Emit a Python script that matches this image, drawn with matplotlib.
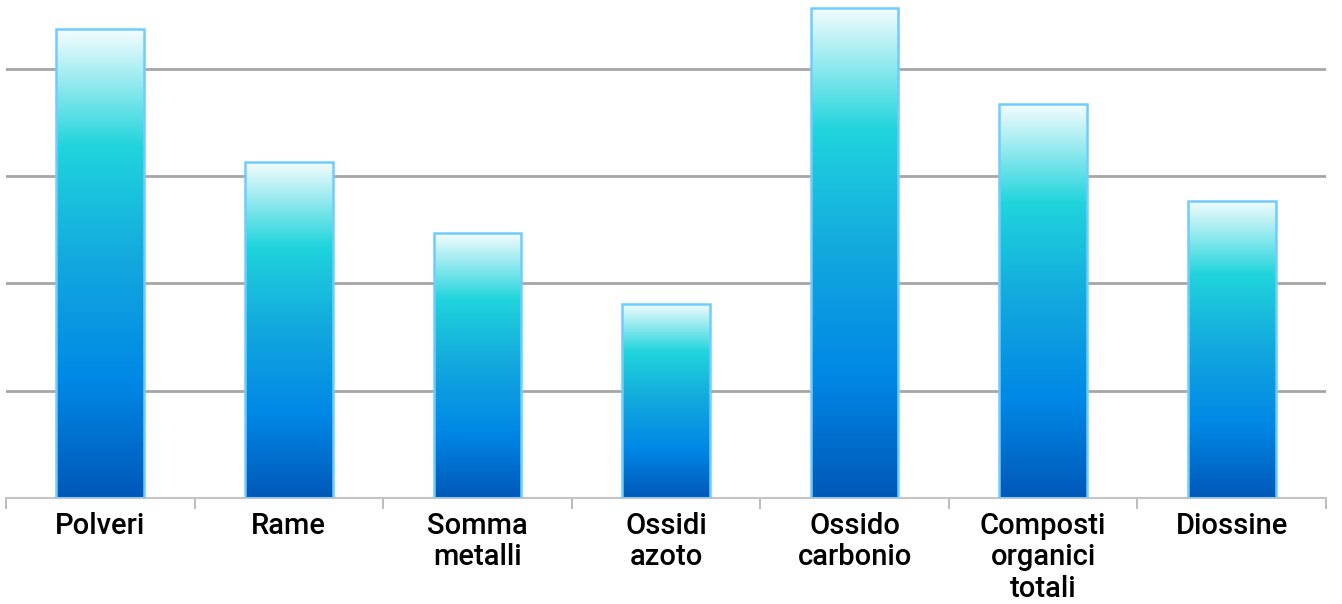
import numpy as np
import matplotlib
matplotlib.use("Agg")
import matplotlib.pyplot as plt
from matplotlib.colors import LinearSegmentedColormap
from matplotlib.ticker import FixedLocator

# Data
categories = ["Polveri", "Rame", "Somma\nmetalli", "Ossidi\nazoto",
              "Ossido\ncarbonio", "Composti\norganici\ntotali", "Diossine"]
values = [4.37, 3.13, 2.47, 1.81, 4.57, 3.67, 2.77]

plt.rcParams['font.family'] = ['Roboto', 'DejaVu Sans']

fig = plt.figure(figsize=(13.42, 6.04), dpi=100)
ax = fig.add_axes([6 / 1342, 1 - 498 / 604, 1320 / 1342, 497 / 604])

# gradient: white top -> cyan -> blue -> dark blue bottom
cmap = LinearSegmentedColormap.from_list("bar", [
    (0.0, "#0058b8"),
    (0.25, "#0088e6"),
    (0.5, "#12a8de"),
    (0.75, "#20d4dc"),
    (1.0, "#f4fcfe"),
])
grad = np.linspace(0, 1, 256).reshape(-1, 1)

x = np.arange(len(categories))
width = 0.465
bars = ax.bar(x, values, width=width, color="none", edgecolor="#70ccff",
              linewidth=1.8, zorder=3)
for b in bars:
    x0, y0 = b.get_x(), b.get_y()
    w, h = b.get_width(), b.get_height()
    im = ax.imshow(grad, cmap=cmap, origin="lower", aspect="auto",
                   extent=[x0, x0 + w, y0, y0 + h], zorder=2)
    im.set_clip_path(b)

ax.set_xlim(-0.5, len(categories) - 0.5)
ax.set_ylim(0, 498 / 107.5)

ax.set_yticks([1, 2, 3, 4])
ax.yaxis.grid(True, color="#a6a6a6", linewidth=2)
ax.set_axisbelow(True)
ax.tick_params(axis="y", length=0, labelleft=False)

ax.set_xticks(x)
ax.set_xticklabels(categories, fontsize=21, fontweight="medium", linespacing=1.16)
ax.tick_params(axis="x", which="major", length=0, pad=10)
ax.xaxis.set_minor_locator(FixedLocator(np.arange(-0.5, len(categories), 1)))
ax.tick_params(axis="x", which="minor", length=8, width=1.2, color="#b0b0b0")

for s in ["top", "right", "left"]:
    ax.spines[s].set_visible(False)
ax.spines["bottom"].set_color("#c4c4c4")
ax.spines["bottom"].set_linewidth(1.5)

fig.savefig("out.png", dpi=100)
plt.close(fig)
